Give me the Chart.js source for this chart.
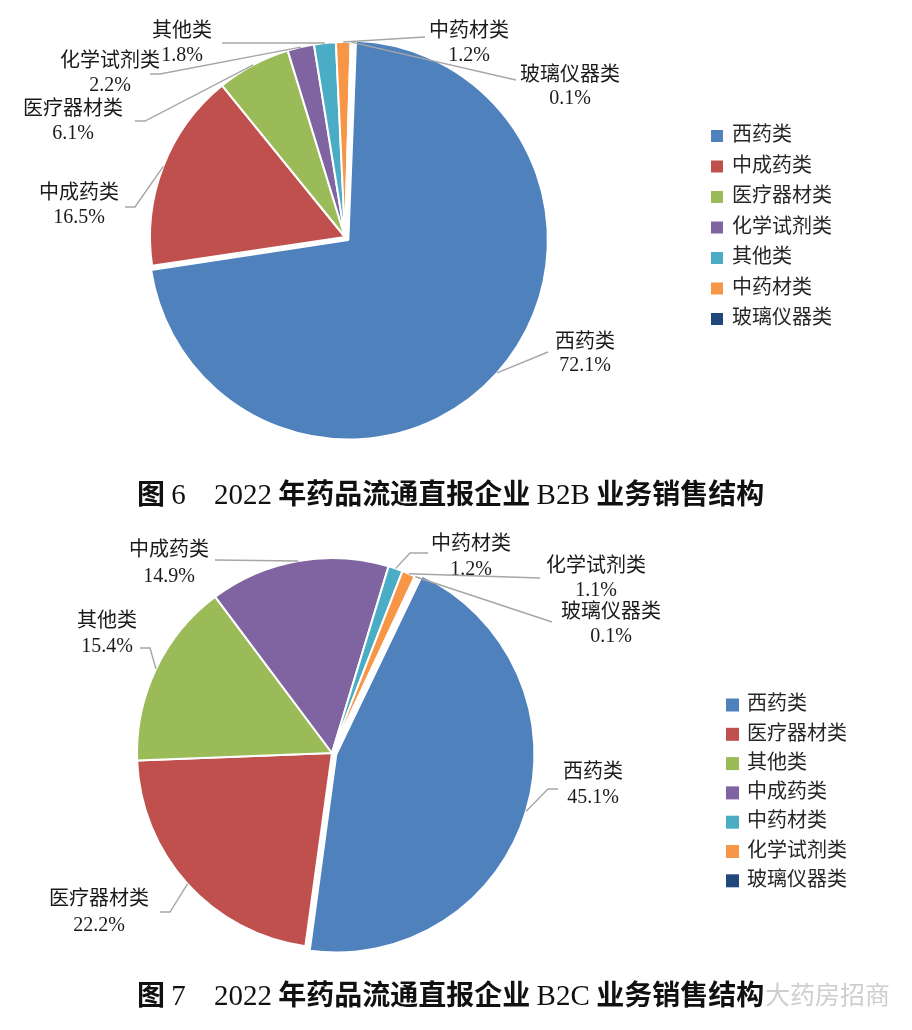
<!DOCTYPE html>
<html><head><meta charset="utf-8">
<script src="https://cdn.jsdelivr.net/npm/chart.js@4.4.0/dist/chart.umd.min.js"></script>
<style>
html,body{margin:0;padding:0;background:#fff;width:912px;height:1030px;overflow:hidden;position:relative;}
canvas{position:absolute;left:0;}
#c1{top:0;}
#c2{top:500px;}
.title{position:absolute;left:137px;font-family:"Noto Sans CJK SC";font-size:28px;font-weight:bold;color:#111;white-space:pre;line-height:32px;}
.title .l{font-family:"Liberation Serif";font-weight:normal;font-size:29px;}
.wm{position:absolute;left:765px;top:978px;font-family:"Noto Sans CJK SC";font-size:25px;color:rgba(190,190,190,0.75);line-height:30px;}
</style></head><body>
<canvas id="c1" width="912" height="474"></canvas>
<canvas id="c2" width="912" height="506"></canvas>
<div class="title" style="top:476px;">图 <span class="l">6</span>　<span class="l">2022</span> 年药品流通直报企业 <span class="l">B2B</span> 业务销售结构</div>
<div class="title" style="top:977px;">图 <span class="l">7</span>　<span class="l">2022</span> 年药品流通直报企业 <span class="l">B2C</span> 业务销售结构</div>
<div class="wm">大药房招商</div>
<script>
// ---- data ----
const categoriesB2B = ['西药类','中成药类','医疗器材类','化学试剂类','其他类','中药材类','玻璃仪器类'];
const sharesB2B = [72.1, 16.5, 6.1, 2.2, 1.8, 1.2, 0.1];
const categoriesB2C = ['西药类','医疗器材类','其他类','中成药类','中药材类','化学试剂类','玻璃仪器类'];
const sharesB2C = [45.1, 22.2, 15.4, 14.9, 1.2, 1.1, 0.1];
const sliceColors = ['#4F81BD','#C0504D','#9BBB59','#8064A2','#4BACC6','#F79646','#1F497D'];

// ---- layout (page coordinates) ----
const labelLayoutB2B = [
  {cx:585, y1:343, y2:366, pts:[[548,352]]},
  {cx:79,  y1:194, y2:218, pts:[[135,207],[125,207]]},
  {cx:73,  y1:110, y2:134, pts:[[145,121],[135,121]]},
  {cx:110, y1:62,  y2:86,  pts:[[160,74],[150,74]]},
  {cx:182, y1:32,  y2:56,  pts:[[222,43]]},
  {cx:469, y1:32,  y2:56,  pts:[[425,37]]},
  {cx:570, y1:76,  y2:99,  pts:[[516,80]]}
];
const labelLayoutB2C = [
  {cx:593, y1:773, y2:798, pts:[[548,789],[558,789]]},
  {cx:99,  y1:900, y2:926, pts:[[170,912],[160,912]]},
  {cx:107, y1:622, y2:647, pts:[[150,648],[140,648]]},
  {cx:169, y1:551, y2:577, pts:[[215,560]]},
  {cx:471, y1:545, y2:570, pts:[[410,553],[428,553]]},
  {cx:596, y1:567, y2:591, pts:[[540,578]]},
  {cx:611, y1:613, y2:637, pts:[[552,622]]}
];

const LABEL_FONT = '20px "Liberation Serif", "Noto Sans CJK SC"';

const pieLabels = {
  id: 'pieLabels',
  afterDatasetsDraw(chart, args, opts) {
    const ctx = chart.ctx;
    const meta = chart.getDatasetMeta(0);
    const ds = chart.data.datasets[0];
    const dy = opts.pageTop;
    ctx.save();
    meta.data.forEach((el, i) => {
      const L = opts.layout[i];
      const p = el.getProps(['x','y','startAngle','endAngle','outerRadius'], true);
      const mid = (p.startAngle + p.endAngle) / 2;
      const circ = p.endAngle - p.startAngle;
      const off = (el.options.offset || 0) / 4;
      const fix = 1 - Math.sin(Math.min(Math.PI, circ));
      const t = off + off * fix;
      const sx = p.x + Math.cos(mid) * (p.outerRadius + t);
      const sy = p.y + Math.sin(mid) * (p.outerRadius + t);
      ctx.beginPath();
      ctx.moveTo(sx, sy);
      L.pts.forEach(q => ctx.lineTo(q[0], q[1] - dy));
      ctx.strokeStyle = '#A6A6A6';
      ctx.lineWidth = 1.4;
      ctx.stroke();
      ctx.fillStyle = '#1a1a1a';
      ctx.font = LABEL_FONT;
      ctx.textAlign = 'center';
      ctx.textBaseline = 'middle';
      ctx.fillText(chart.data.labels[i], L.cx, L.y1 - dy);
      ctx.fillText(ds.data[i].toFixed(1) + '%', L.cx, L.y2 - dy);
    });
    // legend
    const lg = opts.legend;
    chart.data.labels.forEach((lab, i) => {
      const yc = lg.y0 + i * lg.step - dy;
      ctx.fillStyle = ds.backgroundColor[i];
      ctx.fillRect(lg.boxX, yc - lg.box / 2, lg.box, lg.box);
      ctx.fillStyle = '#262626';
      ctx.font = LABEL_FONT;
      ctx.textAlign = 'left';
      ctx.textBaseline = 'middle';
      ctx.fillText(lab, lg.textX, yc);
    });
    ctx.restore();
  }
};

function makePie(id, labels, values, rotation, padRight, layout, pageTop, legend) {
  return new Chart(document.getElementById(id), {
    type: 'pie',
    data: {
      labels: labels,
      datasets: [{
        data: values,
        backgroundColor: sliceColors,
        borderColor: '#ffffff',
        borderWidth: 2,
        offset: values.map((v, i) => i === 0 ? 18 : 0)
      }]
    },
    options: {
      responsive: false,
      animation: false,
      events: [],
      rotation: rotation,
      radius: 195,
      layout: { padding: { left: 0, right: padRight, top: 0, bottom: 0 } },
      plugins: {
        legend: { display: false },
        tooltip: { enabled: false },
        pieLabels: { layout: layout, pageTop: pageTop, legend: legend }
      }
    },
    plugins: [pieLabels]
  });
}

makePie('c1', categoriesB2B, sharesB2B, 2, 222, labelLayoutB2B, 0,
  {boxX:711, box:12, textX:732, y0:136, step:30.5});
makePie('c2', categoriesB2C, sharesB2C, 25.5, 248, labelLayoutB2C, 500,
  {boxX:726, box:13, textX:747, y0:705, step:29.3});
</script>
</body></html>
